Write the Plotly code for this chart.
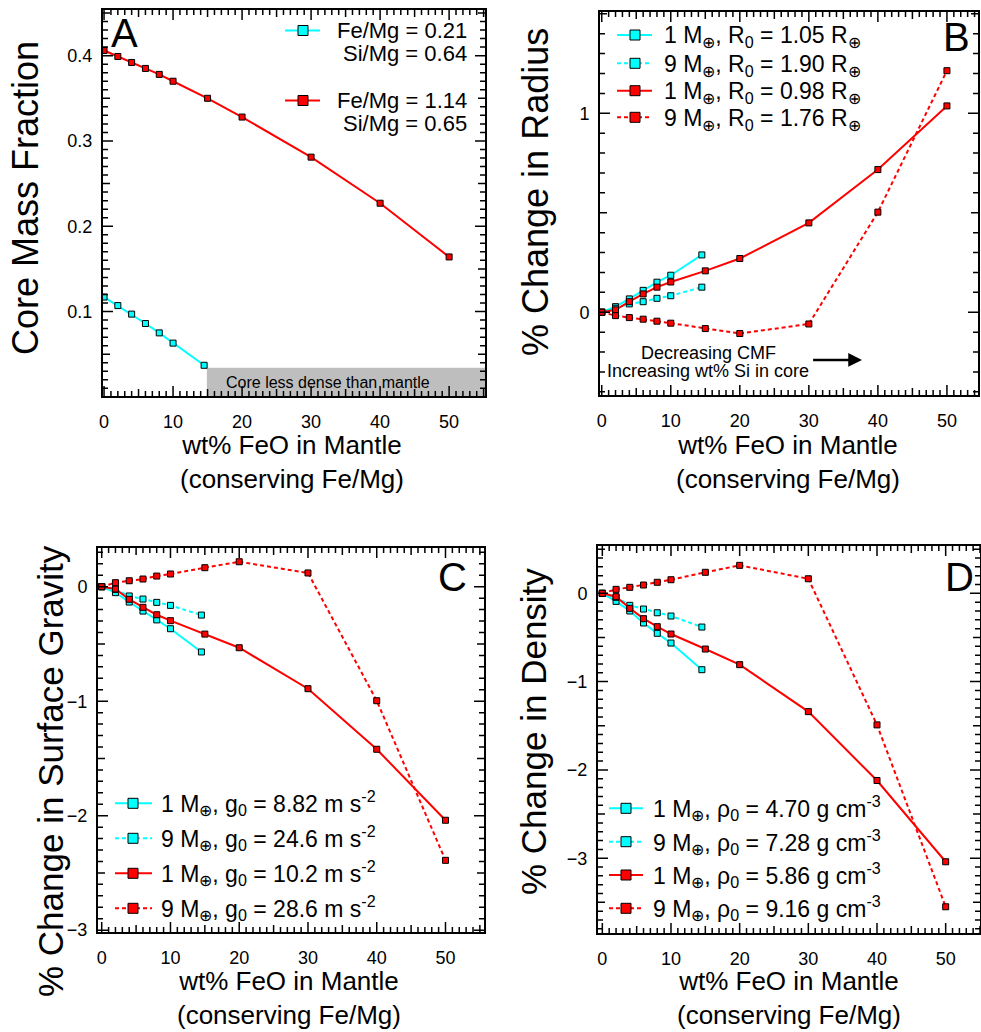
import plotly.graph_objects as go

# ---------------- data ----------------
feo = [0, 2, 4, 6, 8, 10, 15, 20, 30, 40, 50]
feo_low = [0, 2, 4, 6, 8, 10, 14.5]

# Panel A: core mass fraction
cmf_low = [0.117, 0.107, 0.097, 0.086, 0.075, 0.063, 0.037]
cmf_high = [0.406, 0.399, 0.392, 0.385, 0.378, 0.370, 0.350, 0.328, 0.281, 0.227, 0.164]

# Panel B: % change in radius
rad_low_1 = [0, 0.028, 0.067, 0.110, 0.151, 0.186, 0.288]
rad_low_9 = [0, 0.020, 0.042, 0.053, 0.070, 0.083, 0.126]
rad_high_1 = [0, 0.012, 0.053, 0.092, 0.126, 0.152, 0.208, 0.270, 0.449, 0.717, 1.037]
rad_high_9 = [0, -0.017, -0.027, -0.035, -0.045, -0.055, -0.082, -0.107, -0.059, 0.503, 1.214]

# Panel C: % change in surface gravity
grav_low_1 = [0, -0.052, -0.134, -0.213, -0.290, -0.367, -0.570]
grav_low_9 = [0, -0.023, -0.081, -0.108, -0.137, -0.163, -0.248]
grav_high_1 = [0, -0.020, -0.110, -0.180, -0.245, -0.297, -0.414, -0.533, -0.891, -1.420, -2.040]
grav_high_9 = [0, 0.035, 0.052, 0.067, 0.093, 0.111, 0.166, 0.218, 0.120, -0.996, -2.390]

# Panel D: % change in density
dens_low_1 = [0, -0.091, -0.200, -0.336, -0.453, -0.563, -0.865]
dens_low_9 = [0, -0.045, -0.136, -0.178, -0.220, -0.257, -0.382]
dens_high_1 = [0, -0.038, -0.170, -0.287, -0.378, -0.461, -0.631, -0.808, -1.340, -2.120, -3.040]
dens_high_9 = [0, 0.045, 0.068, 0.094, 0.125, 0.154, 0.238, 0.317, 0.165, -1.490, -3.550]

# legend labels
legend_a = [["Fe/Mg = 0.21", "Si/Mg = 0.64"], ["Fe/Mg = 1.14", "Si/Mg = 0.65"]]
legend_b = ["1 M<sub>⊕</sub>, R<sub>0</sub> = 1.05 R<sub>⊕</sub>",
            "9 M<sub>⊕</sub>, R<sub>0</sub> = 1.90 R<sub>⊕</sub>",
            "1 M<sub>⊕</sub>, R<sub>0</sub> = 0.98 R<sub>⊕</sub>",
            "9 M<sub>⊕</sub>, R<sub>0</sub> = 1.76 R<sub>⊕</sub>"]
legend_c = ["1 M<sub>⊕</sub>, g<sub>0</sub> = 8.82 m s<sup>-2</sup>",
            "9 M<sub>⊕</sub>, g<sub>0</sub> = 24.6 m s<sup>-2</sup>",
            "1 M<sub>⊕</sub>, g<sub>0</sub> = 10.2 m s<sup>-2</sup>",
            "9 M<sub>⊕</sub>, g<sub>0</sub> = 28.6 m s<sup>-2</sup>"]
legend_d = ["1 M<sub>⊕</sub>, ρ<sub>0</sub> = 4.70 g cm<sup>-3</sup>",
            "9 M<sub>⊕</sub>, ρ<sub>0</sub> = 7.28 g cm<sup>-3</sup>",
            "1 M<sub>⊕</sub>, ρ<sub>0</sub> = 5.86 g cm<sup>-3</sup>",
            "9 M<sub>⊕</sub>, ρ<sub>0</sub> = 9.16 g cm<sup>-3</sup>"]

# ---------------- styling ----------------
W, H = 981, 1032
FONT = "Liberation Sans, Arial, Helvetica, sans-serif"
CYAN = "#00FFFF"
RED = "#FF0000"
DASH = "4px,3px"


def px(x):
    return x / W


def py(y):
    return 1 - y / H


def steps(lo, hi, step):
    n = int(round((hi - lo) / step))
    return [round(lo + i * step, 4) for i in range(n + 1)]


fig = go.Figure()


def add_series(x, y, color, dash, ax):
    fig.add_trace(go.Scatter(
        x=x, y=y, mode="lines+markers",
        line=dict(color=color, width=2, dash=dash),
        marker=dict(symbol="square", size=6, color=color,
                    line=dict(color="black", width=1)),
        xaxis="x" + ax, yaxis="y" + ax, showlegend=False))


# Panel A
add_series(feo_low, cmf_low, CYAN, "solid", "")
add_series(feo, cmf_high, RED, "solid", "")
# Panel B
add_series(feo_low, rad_low_1, CYAN, "solid", "2")
add_series(feo_low, rad_low_9, CYAN, DASH, "2")
add_series(feo, rad_high_1, RED, "solid", "2")
add_series(feo, rad_high_9, RED, DASH, "2")
# Panel C
add_series(feo_low, grav_low_1, CYAN, "solid", "3")
add_series(feo_low, grav_low_9, CYAN, DASH, "3")
add_series(feo, grav_high_1, RED, "solid", "3")
add_series(feo, grav_high_9, RED, DASH, "3")
# Panel D
add_series(feo_low, dens_low_1, CYAN, "solid", "4")
add_series(feo_low, dens_low_9, CYAN, DASH, "4")
add_series(feo, dens_high_1, RED, "solid", "4")
add_series(feo, dens_high_9, RED, DASH, "4")

# panel geometry (pixels) and axis ranges
PANELS = {
    "":  dict(xdom=(103, 485), ydom=(10, 396), xr=[-0.15, 55.2], yr=[0.001, 0.4535],
              ymaj=0.1, ymed=0.05, ymin=0.01),
    "2": dict(xdom=(600, 978), ydom=(12, 395), xr=[-0.25, 54.5], yr=[-0.416, 1.509],
              ymaj=1, ymed=0.5, ymin=0.1),
    "3": dict(xdom=(98, 484), ydom=(548, 932), xr=[-0.54, 55.6], yr=[-3.016, 0.338],
              ymaj=1, ymed=0.5, ymin=0.1),
    "4": dict(xdom=(598, 980), ydom=(546, 933), xr=[-0.63, 55.0], yr=[-3.847, 0.536],
              ymaj=1, ymed=0.5, ymin=0.1),
}

layout_axes = {}
for s, p in PANELS.items():
    common = dict(showgrid=False, zeroline=False, showline=True, linecolor="black",
                  linewidth=2, mirror=True, ticks="", tickmode="linear", tick0=0,
                  tickfont=dict(family=FONT, size=18, color="black"))
    layout_axes["xaxis" + s] = dict(common, domain=[px(p["xdom"][0]), px(p["xdom"][1])],
                                    range=p["xr"], anchor="y" + s, dtick=10,
                                    ticklabelstandoff=8)
    layout_axes["yaxis" + s] = dict(common, domain=[py(p["ydom"][1]), py(p["ydom"][0])],
                                    range=p["yr"], anchor="x" + s, dtick=p["ymaj"],
                                    ticklabelstandoff=5)

fig.update_layout(
    template="none",
    width=W, height=H,
    margin=dict(l=0, r=0, t=0, b=0, autoexpand=False),
    paper_bgcolor="white", plot_bgcolor="white",
    font=dict(family=FONT, color="black"),
    **layout_axes,
)

shapes = []
annotations = []


# tick marks on all four sides (inside), drawn through each subplot's axes
def tick_paths(s, p):
    xa, ya = "x" + s, "y" + s
    plot_w = p["xdom"][1] - p["xdom"][0]
    plot_h = p["ydom"][1] - p["ydom"][0]
    xlo, xhi = min(p["xr"]), max(p["xr"])
    ylo, yhi = min(p["yr"]), max(p["yr"])

    def classify(vals, maj, med):
        out = {10: [], 7: [], 5: []}
        for v in vals:
            if abs(v / maj - round(v / maj)) < 1e-6:
                out[10].append(v)
            elif abs(v / med - round(v / med)) < 1e-6:
                out[7].append(v)
            else:
                out[5].append(v)
        return out

    xv = [v for v in steps(-5, 60, 1) if xlo <= v <= xhi]
    yv = [v for v in steps(-5, 2, p["ymin"]) if ylo <= v <= yhi]
    for L, vals in classify(xv, 10, 5).items():
        lf = round(L / plot_h, 4)
        path = "".join(f"M{v},0L{v},{lf}M{v},1L{v},{round(1 - lf, 4)}" for v in vals)
        if path:
            shapes.append(dict(type="path", xref=xa, yref=ya + " domain", path=path,
                               line=dict(color="black", width=1.5)))
    for L, vals in classify(yv, p["ymaj"], p["ymed"]).items():
        lf = round(L / plot_w, 4)
        path = "".join(f"M0,{v}L{lf},{v}M1,{v}L{round(1 - lf, 4)},{v}" for v in vals)
        if path:
            shapes.append(dict(type="path", xref=xa + " domain", yref=ya, path=path,
                               line=dict(color="black", width=1.5)))


for s, p in PANELS.items():
    tick_paths(s, p)

# grey "core less dense" region in panel A
shapes.append(dict(type="rect", xref="x", yref="y", x0=14.9, x1=55.2, y0=0.001, y1=0.034,
                   fillcolor="#BEBEBE", line=dict(width=0), layer="below"))
annotations.append(dict(text="Core less dense than mantle", xref="x", yref="y",
                        x=32.5, y=0.0165, showarrow=False,
                        font=dict(family=FONT, size=16, color="black")))


def text(t, x, y, size, xanchor="center", angle=0):
    annotations.append(dict(text=t, xref="paper", yref="paper", x=px(x), y=py(y),
                            showarrow=False, xanchor=xanchor, yanchor="middle",
                            textangle=angle,
                            font=dict(family=FONT, size=size, color="black")))


def legend_sample(x0, x1, xm, y, color, dash):
    shapes.append(dict(type="line", xref="paper", yref="paper",
                       x0=px(x0), x1=px(x1), y0=py(y), y1=py(y),
                       line=dict(color=color, width=2, dash=dash)))
    sz = 5
    shapes.append(dict(type="rect", xref="paper", yref="paper",
                       x0=px(xm - sz), x1=px(xm + sz), y0=py(y + sz), y1=py(y - sz),
                       fillcolor=color, line=dict(color="black", width=1)))


# panel letters
text("A", 125, 33, 40)
text("B", 956, 37, 40)
text("C", 452, 577, 40)
text("D", 959, 577, 40)

# y titles
text("Core Mass Fraction", 25, 198, 36, angle=-90)
text("% Change in Radius", 535, 192, 36, angle=-90)
text("% Change in Surface Gravity", 50, 771, 35, angle=-90)
text("% Change in Density", 533, 732, 35, angle=-90)

# x titles (two-line)
XT = "wt% FeO in Mantle<br>(conserving Fe/Mg)"
for (cx, cy) in [(292, 462), (788, 462), (289, 998), (789, 998)]:
    text(XT, cx, cy, 26)

# legend A
for i, (color, ys) in enumerate([(CYAN, (30.5, 53.5)), (RED, (100.5, 123.5))]):
    legend_sample(285, 320, 303, ys[0], color, "solid")
    text(legend_a[i][0], 469, ys[0], 22, xanchor="right")
    text(legend_a[i][1], 469, ys[1], 22, xanchor="right")

styles = [(CYAN, "solid"), (CYAN, DASH), (RED, "solid"), (RED, DASH)]

# legend B
for i, yy in enumerate([35, 63.3, 90.7, 117.3]):
    c, d = styles[i]
    legend_sample(617, 652, 635, yy, c, d)
    text(legend_b[i], 662, yy + 2, 23, xanchor="left")

# legend C
for i, yy in enumerate([803.3, 838.3, 873.3, 908.3]):
    c, d = styles[i]
    legend_sample(115, 152, 133, yy, c, d)
    text(legend_c[i], 159, yy, 23, xanchor="left")

# legend D
for i, yy in enumerate([808.3, 841.7, 875, 908.3]):
    c, d = styles[i]
    legend_sample(609, 643, 626, yy, c, d)
    text(legend_d[i], 651, yy, 23, xanchor="left")

# panel B annotation + arrow
annotations.append(dict(text="Decreasing CMF", xref="x2", yref="y2", x=15.4, y=-0.205,
                        showarrow=False, font=dict(family=FONT, size=18, color="black")))
annotations.append(dict(text="Increasing wt% Si in core", xref="x2", yref="y2", x=15.35, y=-0.297,
                        showarrow=False, font=dict(family=FONT, size=18, color="black")))
annotations.append(dict(text="", xref="x2", yref="y2", x=37.7, y=-0.24,
                        axref="x2", ayref="y2", ax=30.4, ay=-0.24,
                        showarrow=True, arrowhead=2, arrowsize=1.1, arrowwidth=2.5,
                        arrowcolor="black"))

fig.update_layout(shapes=shapes, annotations=annotations)

fig.write_html("out.html", config={"displayModeBar": False},
               post_script="document.body.style.margin='0';document.body.style.overflow='hidden';")
